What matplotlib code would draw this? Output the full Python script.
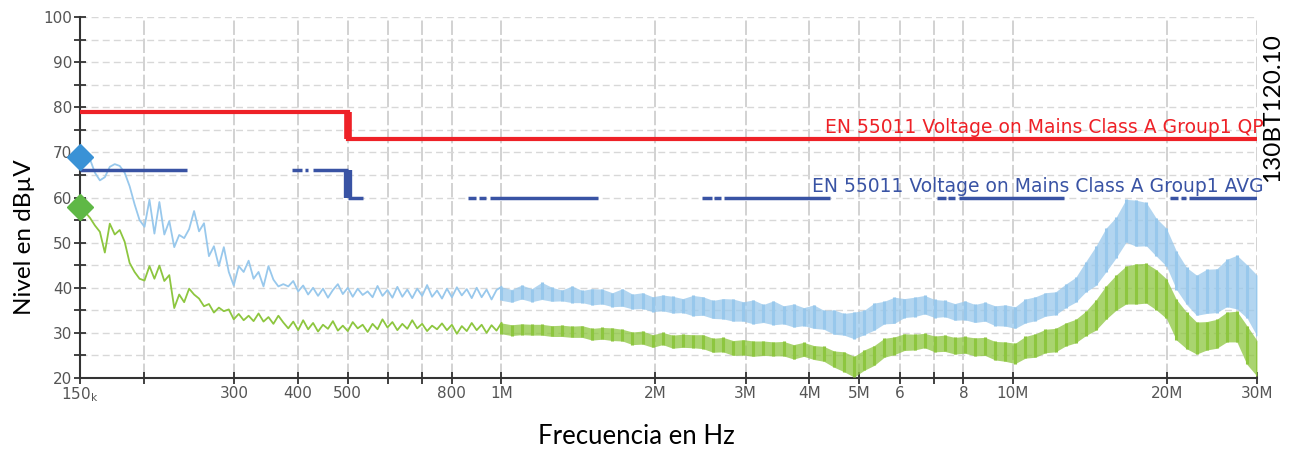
import numpy as np
import matplotlib.pyplot as plt
from matplotlib.ticker import FixedLocator, FixedFormatter, MultipleLocator

# barrido 150 kHz - 1 MHz, nivel en dBuV
pico_bajo = [71.5, 70.5, 68.5, 65.5, 63.8, 64.5, 66.8, 67.4, 67.0, 65.5,
             62.5, 58.5, 55.0, 53.5, 59.5, 52.0, 59.0, 51.8, 54.8, 49.0,
             51.7, 51.0, 53.0, 57.0, 52.5, 54.3, 47.0, 49.2, 44.8, 49.0,
             43.5, 40.5, 44.8, 43.5, 46.0, 42.0, 43.5, 40.3, 44.8, 41.8,
             40.3, 40.8, 40.3, 41.5, 39.2, 40.5, 38.5, 40.0, 38.2, 39.8,
             37.8, 39.5, 40.8, 38.6, 40.0, 38.0, 39.8, 38.4, 39.2, 37.9,
             40.4, 38.2, 39.5, 37.8, 40.2, 38.0, 39.6, 37.7, 39.8, 38.2,
             40.6, 38.0, 39.4, 37.6, 39.8, 37.9, 40.1, 38.3, 39.7, 37.7,
             40.0, 37.9, 39.6, 37.4, 39.5]
media_bajo = [57.8, 56.8, 55.5, 53.8, 52.4, 47.8, 54.2, 51.8, 52.8, 50.2,
              45.5, 43.5, 42.0, 41.6, 44.8, 42.0, 44.9, 41.5, 42.8, 35.5,
              38.5, 36.8, 39.8, 38.5, 37.6, 35.9, 36.4, 34.5, 35.6, 34.8,
              35.2, 33.0, 34.2, 32.8, 33.8, 32.6, 34.3, 32.5, 33.5, 32.0,
              33.8, 32.3, 31.0, 32.5, 30.6, 32.8, 30.8, 32.2, 30.3, 31.8,
              30.9, 32.6, 30.5, 31.6, 30.4, 32.4, 31.0, 31.8, 30.2, 32.0,
              30.8, 33.0, 31.2, 32.4, 30.6, 32.0, 30.9, 32.8, 31.0, 32.0,
              30.4, 31.6, 30.8, 32.1, 30.6, 31.8, 29.8, 31.5, 30.4, 32.2,
              30.6, 31.8, 30.0, 31.7, 30.5]

# 1 MHz - 30 MHz: envolvente superior e inferior de cada traza
pico_sup = [40.2, 39.6, 40.6, 39.8, 41.2, 40.1, 39.5, 40.4, 39.4, 39.8,
            39.7, 38.9, 39.8, 38.6, 38.9, 38.0, 38.4, 38.1, 37.6, 38.3,
            38.0, 37.2, 37.6, 37.5, 36.9, 37.3, 36.3, 37.1, 36.0, 36.4,
            35.6, 36.2, 35.0, 35.1, 34.3, 34.6, 35.0, 36.6, 37.0, 37.9,
            37.6, 37.9, 38.3, 37.4, 37.2, 36.5, 37.1, 36.3, 36.8, 36.0,
            36.2, 35.8, 37.5, 38.0, 38.9, 39.1, 40.8, 42.3, 45.8, 49.2,
            53.2, 55.6, 59.6, 59.4, 58.9, 55.4, 53.2, 48.1, 44.5, 42.8,
            44.1, 44.2, 46.3, 47.2, 45.1, 42.8]
pico_inf = [37.2, 36.8, 37.5, 36.9, 37.4, 37.0, 37.1, 36.7, 36.7, 36.2,
            36.4, 35.8, 35.9, 35.3, 35.4, 34.7, 34.9, 34.4, 34.5, 33.8,
            33.9, 33.2, 33.1, 32.6, 32.6, 32.0, 32.3, 31.8, 32.0, 31.3,
            31.6, 31.0, 30.8, 29.7, 29.5, 28.7, 29.6, 30.6, 32.0, 32.1,
            33.4, 33.6, 34.2, 33.4, 33.6, 32.8, 32.9, 32.3, 32.6, 31.6,
            31.5, 31.0, 32.2, 32.7, 33.7, 34.0, 35.6, 36.8, 39.1, 40.5,
            43.5, 46.6, 50.1, 49.2, 49.3, 47.0, 44.8, 39.6, 36.3, 33.9,
            34.3, 34.5, 35.8, 35.3, 33.3, 29.3]
media_sup = [32.2, 31.8, 32.0, 31.9, 31.9, 31.6, 31.7, 31.5, 31.6, 31.0,
             31.2, 31.1, 30.8, 30.2, 30.4, 29.6, 30.1, 29.5, 29.7, 29.6,
             29.6, 28.8, 29.0, 28.3, 28.5, 28.2, 28.2, 28.0, 28.1, 27.4,
             27.9, 27.2, 27.0, 26.0, 25.8, 24.8, 26.2, 27.2, 28.8, 29.1,
             29.8, 29.7, 29.9, 29.3, 29.5, 29.0, 29.2, 28.9, 29.0, 28.1,
             28.0, 27.7, 29.2, 29.8, 30.8, 31.0, 32.2, 33.0, 34.8, 37.3,
             40.4, 42.8, 44.8, 45.3, 45.4, 44.0, 42.0, 37.4, 34.6, 32.4,
             32.5, 33.0, 34.6, 34.8, 31.6, 28.3]
media_inf = [29.8, 29.4, 29.6, 29.5, 29.5, 29.2, 29.2, 29.0, 29.0, 28.4,
             28.6, 28.3, 28.2, 27.4, 27.5, 26.8, 27.4, 26.6, 26.8, 26.7,
             26.5, 25.7, 25.8, 25.0, 25.1, 24.8, 25.0, 24.9, 24.9, 24.2,
             24.8, 24.1, 23.7, 22.4, 21.4, 20.2, 21.7, 22.8, 24.6, 25.2,
             26.1, 26.2, 26.7, 25.8, 25.9, 25.3, 25.5, 24.9, 25.0, 24.0,
             23.7, 23.2, 24.4, 24.6, 25.6, 25.8, 27.1, 27.8, 29.4, 30.6,
             33.0, 35.0, 36.4, 36.4, 36.6, 35.1, 33.2, 28.4, 26.5, 25.3,
             26.2, 26.6, 28.0, 28.0, 23.0, 20.4]

# limites EN 55011 clase A grupo 1
qp_frec = [150e3, 500e3, 500e3, 30e6]
qp_nivel = [79, 79, 73, 73]
avg_ini = [150e3, 390e3, 413e3, 428e3, 500e3, 860e3, 904e3, 950e3,
           2.47e6, 2.60e6, 2.72e6, 7.1e6, 7.47e6, 7.85e6, 20.3e6, 21.3e6, 22.1e6]
avg_fin = [243e3, 408e3, 419e3, 500e3, 536e3, 892e3, 933e3, 1.545e6,
           2.58e6, 2.69e6, 4.39e6, 7.4e6, 7.71e6, 12.6e6, 21.0e6, 21.8e6, 30e6]
avg_nivel = [66, 66, 66, 66, 60, 60, 60, 60, 60, 60, 60, 60, 60, 60, 60, 60, 60]
marca_pico = 69
marca_media = 58

tick_frec = [150e3, 200e3, 300e3, 400e3, 500e3, 600e3, 700e3, 800e3, 1e6,
             2e6, 3e6, 4e6, 5e6, 6e6, 7e6, 8e6, 10e6, 20e6, 30e6]
tick_txt = [r'150$_\mathregular{k}$', '', '300', '400', '500', '', '', '800', '1M',
            '2M', '3M', '4M', '5M', '6', '', '8', '10M', '20M', '30M']

AZUL_CLARO = '#98c8ec'
VERDE = '#8dc63f'
ROJO = '#ee2127'
AZUL = '#3953a4'

f_bajo = np.geomspace(150e3, 1e6, len(pico_bajo), endpoint=False)
f_env = np.geomspace(1e6, 30e6, len(pico_sup))

fig = plt.figure(figsize=(12.89, 4.5), dpi=100)
ax = fig.add_axes([0.0621, 0.16, 0.9131, 0.8022])
ax.set_xscale('log')
ax.set_xlim(150e3, 30e6)
ax.set_ylim(20, 100)

# trazas medidas; por encima de 1 MHz se ven como una banda de barras
for f_b, bajo, sup, inf, col in [(f_bajo, pico_bajo, pico_sup, pico_inf, AZUL_CLARO),
                                 (f_bajo, media_bajo, media_sup, media_inf, VERDE)]:
    ax.plot(np.append(f_b, f_env[0]), np.append(bajo, sup[0]), color=col, lw=1.3, zorder=3)
    ax.fill_between(f_env, inf, sup, color=col, alpha=0.75, lw=0, zorder=2)
    ax.vlines(f_env, inf, sup, color=col, lw=2.2, zorder=3)

# limite QP
ax.plot(qp_frec, qp_nivel, color=ROJO, lw=3, solid_joinstyle='miter', zorder=4)
ax.vlines(qp_frec[1], qp_nivel[2], qp_nivel[1], color=ROJO, lw=5.5, zorder=4)

# limite AVG, en tramos
for ini, fin, niv in zip(avg_ini, avg_fin, avg_nivel):
    ax.plot([ini, fin], [niv, niv], color=AZUL, lw=2.5, solid_capstyle='butt', zorder=4)
ax.vlines(500e3, avg_nivel[4], avg_nivel[3], color=AZUL, lw=6, zorder=4)

ax.plot([150e3], [marca_pico], marker='D', ms=13, color='#3a92d6', clip_on=False, zorder=5)
ax.plot([150e3], [marca_media], marker='D', ms=13, color='#5fb846', clip_on=False, zorder=5)

ax.text(1.006, 73.4, 'EN 55011 Voltage on Mains Class A Group1 QP', color=ROJO,
        fontsize=13.5, ha='right', va='bottom',
        transform=ax.get_yaxis_transform())
ax.text(1.006, 60.4, 'EN 55011 Voltage on Mains Class A Group1 AVG', color=AZUL,
        fontsize=13.5, ha='right', va='bottom',
        transform=ax.get_yaxis_transform())

# ejes y rejilla
ax.xaxis.set_major_locator(FixedLocator(tick_frec))
ax.xaxis.set_major_formatter(FixedFormatter(tick_txt))
ax.xaxis.set_minor_locator(FixedLocator([]))
ax.yaxis.set_major_locator(MultipleLocator(10))
ax.yaxis.set_minor_locator(MultipleLocator(5))
ax.tick_params(axis='both', which='both', direction='inout', length=9, width=1.3,
               color='#333333', labelcolor='#555555', labelsize=11)
ax.tick_params(axis='y', pad=1)
ax.tick_params(axis='x', pad=1)
ax.grid(True, axis='x', which='major', color='#cfcfcf', lw=1.3, ls=(0, (8, 2)))
ax.grid(True, axis='y', which='both', color='#d8d8d8', lw=1.0, ls=(0, (5, 3)))
ax.set_axisbelow(True)
for lado in ['top', 'right']:
    ax.spines[lado].set_visible(False)
for lado in ['left', 'bottom']:
    ax.spines[lado].set_color('#333333')
    ax.spines[lado].set_linewidth(1.5)

fig.text(0.019, 0.473, 'Nivel en dBµV', rotation=90, fontsize=17.5, family='Lato',
         ha='center', va='center')
fig.text(0.494, 0.03, 'Frecuencia en Hz', fontsize=18.5, family='Lato',
         ha='center', va='center')
fig.text(0.9876, 0.762, '130BT120.10', rotation=90, fontsize=17.5, family='Lato',
         ha='center', va='center')

fig.savefig('out.png', dpi=100)
